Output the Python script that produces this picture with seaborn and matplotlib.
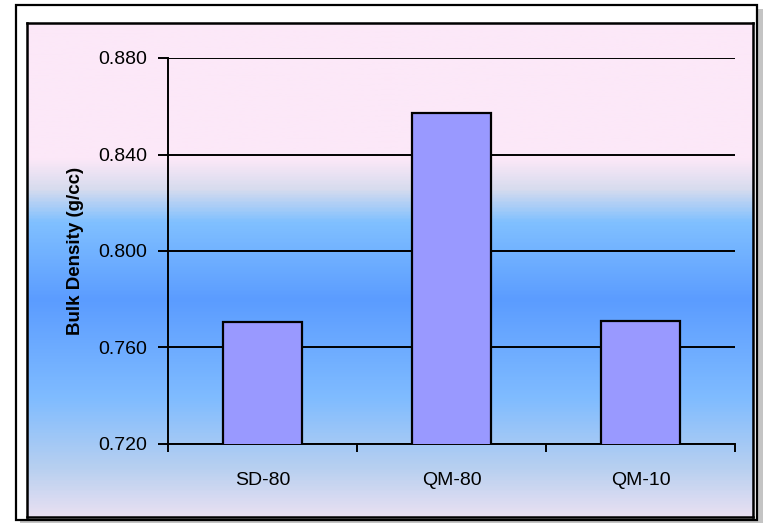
import numpy as np
import pandas as pd
import seaborn as sns
import matplotlib.pyplot as plt
from matplotlib.colors import LinearSegmentedColormap
from matplotlib.patches import Rectangle

# data
samples = ['SD-80', 'QM-80', 'QM-10']
bulk_density = [0.7705, 0.8572, 0.7710]
y_ticks = [0.720, 0.760, 0.800, 0.840, 0.880]

df = pd.DataFrame({'sample': samples, 'density': bulk_density})

sns.set_style('white')
plt.rcParams['font.family'] = ['Liberation Sans', 'DejaVu Sans']
plt.rcParams['text.color'] = 'black'
plt.rcParams['axes.labelcolor'] = 'black'
plt.rcParams['xtick.color'] = 'black'
plt.rcParams['ytick.color'] = 'black'

W, H = 764, 523
fig = plt.figure(figsize=(W / 100, H / 100), dpi=100)

def fx(px):
    return px / W

def fy(py):
    return 1 - py / H

def frect(x0, y0, x1, y1):
    # pixel box (top-left origin) -> figure coords
    return (fx(x0), fy(y1)), fx(x1) - fx(x0), fy(y0) - fy(y1)

# outer frame with a light grey shadow on the right/bottom
xy, w, h = frect(20, 9, 763, 523)
fig.patches.append(Rectangle(xy, w, h, transform=fig.transFigure,
                             facecolor='#c4c4c4', edgecolor='none', zorder=0))
xy, w, h = frect(16, 5, 757, 520)
fig.patches.append(Rectangle(xy, w, h, transform=fig.transFigure,
                             facecolor='white', edgecolor='black', lw=1.6, zorder=0.5))

# gradient background inside the inner frame
x0, y0, x1, y1 = 27, 23, 753, 517
xy, w, h = frect(x0, y0, x1, y1)
bg = fig.add_axes([xy[0], xy[1], w, h], zorder=0.6)
stops = [(23, '#fce8f8'), (158, '#fce8f8'), (188, '#d8dcee'), (222, '#80c0ff'),
         (300, '#5b9cff'), (400, '#80bcff'), (470, '#b8d0f0'), (517, '#e8e0f2')]
pos = [(p - y0) / (y1 - y0) for p, _ in stops]
cmap = LinearSegmentedColormap.from_list('bg', list(zip(pos, [c for _, c in stops])))
bg.imshow(np.linspace(0, 1, 400).reshape(-1, 1), aspect='auto', cmap=cmap,
          extent=[0, 1, 1, 0])
bg.set_xticks([])
bg.set_yticks([])
for s in bg.spines.values():
    s.set_linewidth(1.8)
    s.set_color('black')

# main chart
xy, w, h = frect(168, 58, 735, 444)
ax = fig.add_axes([xy[0], xy[1], w, h], zorder=1)
ax.patch.set_alpha(0)
sns.barplot(data=df, x='sample', y='density', color='#9999ff', saturation=1,
            width=0.42, edgecolor='black', linewidth=1.6, ax=ax, zorder=3)

ax.set_ylim(0.72, 0.88)
ax.set_xlim(-0.5, 2.5)
ax.set_yticks(y_ticks)
ax.set_yticklabels([f'{v:.3f}' for v in y_ticks], fontsize=14)
ax.yaxis.grid(True, color='black', lw=1.4, zorder=1)
ax.set_axisbelow(True)

ax.set_xticks([-0.5, 0.5, 1.5, 2.5])
ax.set_xticklabels([])
ax.set_xticks([0, 1, 2], minor=True)
ax.set_xticklabels(samples, minor=True, fontsize=14)
ax.tick_params(axis='x', which='minor', length=0, pad=20)
ax.tick_params(axis='x', which='major', direction='out', length=6, width=1.4, color='black', bottom=True)
ax.tick_params(axis='y', direction='out', length=7, width=1.4, color='black', left=True, pad=8)

ax.set_xlabel('')
ax.set_ylabel('Bulk Density (g/cc)', fontsize=13.5, fontweight='bold', labelpad=10)

for side in ['top', 'right']:
    ax.spines[side].set_visible(False)
for side in ['left', 'bottom']:
    ax.spines[side].set_visible(True)
    ax.spines[side].set_color('black')
    ax.spines[side].set_linewidth(1.4)

fig.savefig('out.png', dpi=100)
